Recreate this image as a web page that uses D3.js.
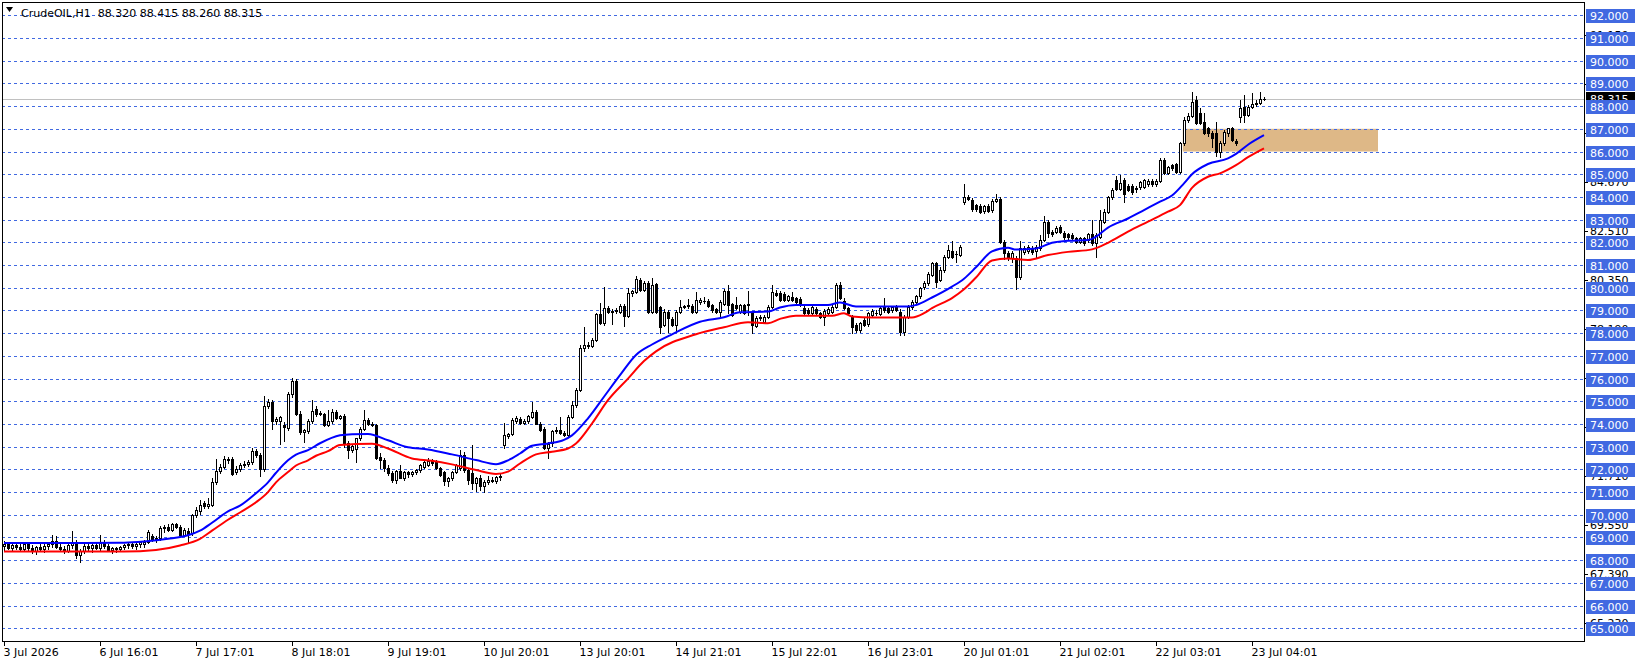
<!DOCTYPE html>
<html><head><meta charset="utf-8">
<script src="https://cdn.jsdelivr.net/npm/d3@7"></script>
<style>html,body{margin:0;padding:0;background:#fff;overflow:hidden}svg{display:block}text{font-family:"DejaVu Sans",Tahoma,sans-serif;font-size:11px}</style>
</head><body><svg id="c" width="1641" height="665"></svg>
<script>
// ---------------- DATA ----------------
const symbolTitle = "CrudeOIL,H1  88.320 88.415 88.260 88.315";
const opens = [
68.62,68.70,68.55,68.65,68.60,68.50,68.70,68.52,68.40,68.58,
68.50,68.62,68.72,68.85,68.60,68.48,68.40,68.65,68.80,68.25,
68.40,68.62,68.55,68.68,68.52,68.75,68.62,68.45,68.52,68.48,
68.58,68.65,68.70,68.62,68.70,68.70,68.82,69.05,68.92,68.96,
69.40,69.48,69.35,69.58,69.45,69.12,69.30,69.20,69.98,70.15,
70.50,70.38,70.45,71.43,71.95,72.10,72.45,72.45,71.87,72.02,
72.21,72.25,72.32,72.80,72.62,72.00,74.80,74.95,74.15,74.15,
73.95,73.83,75.30,75.90,74.45,73.65,73.70,74.15,74.65,74.50,
74.45,73.97,74.12,74.54,74.27,74.35,73.18,72.85,72.90,73.36,
73.80,74.17,74.02,73.95,72.55,72.41,72.04,71.85,71.55,71.92,
71.64,71.88,71.78,71.90,71.97,72.10,72.20,72.37,72.34,72.05,
71.90,71.50,71.60,71.90,72.04,72.63,71.97,71.82,71.40,71.60,
71.25,71.45,71.55,71.50,71.65,73.07,73.45,73.55,74.15,74.22,
74.05,74.14,74.32,74.54,74.02,73.78,72.95,73.14,73.69,73.74,
73.60,73.52,74.32,74.83,75.50,77.33,77.50,77.45,77.70,78.83,
78.43,79.12,78.95,78.97,78.95,79.21,78.77,79.75,79.83,80.34,
79.90,80.20,78.95,80.15,79.13,78.36,78.95,78.63,78.36,78.95,
79.17,79.19,79.21,78.95,79.39,79.42,79.42,79.24,79.05,78.95,
79.30,79.86,79.27,79.24,78.95,79.24,79.27,78.88,78.30,78.66,
78.51,78.73,79.17,79.76,79.76,79.71,79.46,79.61,79.54,79.51,
79.10,79.01,78.88,79.07,78.88,78.69,78.88,78.95,79.17,80.10,
79.42,79.10,78.73,78.36,78.14,78.58,78.39,78.80,78.88,78.83,
79.17,79.10,79.03,79.17,78.95,78.07,78.73,79.13,79.36,79.64,
80.05,80.20,80.57,81.08,80.35,80.79,81.37,81.62,81.48,81.45,
83.79,84.00,83.85,83.64,83.61,83.39,83.61,83.42,83.83,83.90,
82.02,81.51,81.29,81.29,80.48,81.58,81.63,81.76,81.63,81.73,
82.10,82.91,82.46,82.46,82.69,82.42,82.36,82.32,82.17,82.02,
82.17,82.10,82.36,81.95,82.25,82.91,83.35,84.00,84.74,84.37,
84.74,84.48,84.48,84.40,84.42,84.45,84.57,84.70,84.57,84.71,
85.62,85.06,85.40,85.45,85.10,86.36,87.41,87.56,88.27,87.68,
87.31,87.02,86.83,86.80,85.99,86.39,86.80,87.02,86.47,87.53,
87.97,87.60,87.97,88.09,88.15,88.32];
const highs = [
68.85,68.80,68.72,68.78,68.70,68.78,68.80,68.68,68.62,68.75,
68.70,68.80,69.10,69.05,68.72,68.62,68.70,69.27,68.90,68.50,
68.70,68.78,68.72,68.80,69.10,68.90,68.70,68.58,68.60,68.62,
68.72,68.78,68.82,68.75,68.85,68.90,69.35,69.15,69.05,69.50,
69.55,69.58,69.65,69.65,69.55,69.40,69.42,70.05,70.35,70.65,
70.60,70.75,71.60,72.46,72.25,72.60,72.55,72.55,72.15,72.30,
72.35,72.40,72.95,72.90,72.70,75.25,75.10,75.05,74.30,74.35,
74.10,75.40,76.03,76.00,74.55,73.80,74.20,75.05,74.80,74.58,
74.50,74.60,74.65,74.60,74.40,74.45,73.25,73.10,73.40,73.85,
74.61,74.25,74.10,74.02,72.70,72.50,72.20,71.92,71.98,72.19,
71.92,71.95,71.95,72.00,72.25,72.38,72.48,72.45,72.40,72.10,
71.95,71.65,71.95,72.25,72.85,72.75,72.05,73.07,71.68,71.75,
71.55,71.70,71.68,71.72,71.80,74.03,73.62,74.25,74.35,74.30,
74.20,74.40,74.95,74.60,74.08,73.85,73.20,73.75,73.85,74.32,
73.70,74.40,75.00,75.60,77.48,78.28,77.60,77.80,78.90,79.31,
80.05,79.20,79.05,79.10,79.30,79.30,79.97,79.90,80.53,80.44,
80.30,80.30,80.45,80.20,79.20,79.05,79.00,78.70,79.00,79.45,
79.25,79.49,79.30,79.80,79.55,79.61,79.50,79.30,79.10,79.45,
79.95,80.10,79.35,79.61,79.30,79.30,79.86,78.95,78.75,78.80,
78.80,79.25,80.12,79.90,79.85,79.80,79.70,79.80,79.60,79.58,
79.20,79.10,79.20,79.15,78.95,79.05,79.15,79.25,80.20,80.27,
79.55,79.15,78.80,78.45,78.50,78.65,78.95,79.05,79.00,79.15,
79.54,79.20,79.20,79.25,79.05,78.80,79.25,79.45,79.70,80.05,
80.30,80.70,81.15,81.15,80.90,81.45,81.90,82.08,81.60,81.90,
84.57,84.10,83.95,83.70,83.68,83.65,83.70,83.90,84.15,84.00,
82.10,81.60,81.60,81.40,82.05,81.85,81.90,81.85,81.90,82.32,
83.15,83.00,82.55,82.70,82.75,82.50,82.42,82.40,82.25,82.25,
82.25,82.40,82.98,82.40,83.43,83.45,84.05,84.40,84.92,84.96,
84.85,84.55,84.55,84.50,84.70,84.80,84.80,84.78,84.80,85.70,
85.70,85.35,85.45,85.50,86.40,87.50,87.70,88.60,88.45,87.90,
87.68,87.10,86.90,87.30,86.45,86.95,87.05,87.10,86.55,88.27,
88.49,88.05,88.56,88.25,88.60,88.415];
const lows = [
68.45,68.50,68.40,68.50,68.42,68.40,68.45,68.30,68.28,68.45,
68.35,68.50,68.60,68.55,68.40,68.30,68.38,68.55,68.10,67.90,
68.30,68.45,68.35,68.48,68.45,68.55,68.40,68.30,68.38,68.40,
68.48,68.52,68.55,68.50,68.60,68.60,68.75,68.85,68.80,68.90,
69.25,69.30,69.30,69.40,69.05,69.05,68.80,69.10,69.90,70.05,
70.30,70.30,70.40,71.35,71.85,72.05,72.30,71.75,71.80,71.95,
72.10,72.15,72.25,72.55,71.73,71.95,74.70,73.78,74.00,73.10,
73.25,73.75,75.20,74.40,73.55,73.20,73.60,74.05,74.35,74.38,
73.90,73.90,74.05,74.20,74.20,73.00,72.48,72.75,72.34,73.30,
73.75,73.95,73.90,72.45,72.04,71.95,71.75,71.45,71.40,71.60,
71.55,71.68,71.70,71.80,71.90,72.05,72.15,72.20,72.00,71.70,
71.30,71.25,71.55,71.85,71.98,71.90,71.35,71.15,71.05,71.10,
71.00,71.35,71.45,71.42,71.55,72.93,73.38,73.50,74.05,74.00,
73.98,74.05,74.28,73.98,73.68,72.90,72.48,73.05,73.60,73.55,
73.45,73.45,74.25,74.75,75.45,77.20,77.35,77.40,77.65,78.40,
78.38,78.90,78.39,78.90,78.90,78.32,78.70,79.65,79.78,79.85,
79.85,78.90,78.90,78.90,78.00,78.30,78.07,78.30,78.07,78.88,
79.10,79.10,78.90,78.90,79.30,79.35,79.15,78.95,78.90,78.66,
79.25,78.88,78.75,79.05,78.90,78.85,78.80,78.00,78.25,78.60,
78.45,78.65,79.10,79.65,79.40,79.40,79.40,79.40,79.35,79.20,
78.85,78.80,78.82,78.82,78.65,78.36,78.82,78.90,79.10,79.50,
79.05,78.82,78.00,78.05,78.05,78.30,78.30,78.75,78.80,78.78,
78.95,78.90,78.95,78.98,77.90,77.92,78.65,79.05,79.30,79.55,
79.95,80.10,80.50,80.05,80.28,80.70,81.30,81.30,81.12,81.40,
83.70,83.85,83.40,83.40,83.30,83.30,83.35,83.35,83.78,81.95,
81.28,81.20,81.14,79.93,80.40,81.50,81.55,81.50,81.36,81.65,
82.05,82.25,82.30,82.40,82.40,82.15,82.15,82.10,81.95,81.95,
81.90,82.00,81.90,81.36,82.20,82.85,83.30,83.90,84.30,84.30,
83.79,84.25,84.15,84.20,84.35,84.40,84.50,84.50,84.50,84.65,
85.00,85.00,85.20,85.05,85.05,86.30,87.30,87.50,87.20,87.20,
86.75,86.70,86.20,85.80,85.77,86.30,86.70,86.45,86.30,87.31,
87.31,87.55,87.90,88.00,88.10,88.26];
const closes = [
68.70,68.55,68.65,68.60,68.50,68.70,68.52,68.40,68.58,68.50,
68.62,68.72,68.85,68.60,68.48,68.40,68.65,68.80,68.25,68.40,
68.62,68.55,68.68,68.52,68.75,68.62,68.45,68.52,68.48,68.58,
68.65,68.70,68.62,68.70,68.80,68.82,69.25,68.92,68.98,69.40,
69.48,69.35,69.58,69.45,69.12,69.35,69.15,69.98,70.20,70.42,
70.38,70.48,71.46,71.95,72.10,72.45,72.42,71.80,72.02,72.21,
72.25,72.32,72.83,72.62,72.02,74.80,74.95,74.15,74.22,74.30,
73.85,75.33,75.90,74.45,73.65,73.72,74.15,74.59,74.45,74.45,
73.97,74.15,74.54,74.27,74.33,73.15,72.87,73.05,73.36,73.80,
74.17,74.02,73.95,72.50,72.41,72.04,71.85,71.52,71.92,71.64,
71.88,71.78,71.90,71.97,72.19,72.34,72.37,72.26,72.05,71.75,
71.50,71.60,71.90,72.19,72.63,71.97,71.53,71.40,71.60,71.25,
71.45,71.55,71.50,71.65,71.70,73.50,73.55,74.17,74.25,74.05,
74.15,74.35,74.54,74.02,73.73,72.95,73.10,73.69,73.74,73.60,
73.52,74.32,74.83,75.50,77.33,77.50,77.45,77.70,78.83,78.43,
79.12,78.95,78.97,79.02,79.21,78.77,79.75,79.85,80.38,79.90,
80.19,78.95,80.12,78.95,78.29,78.95,78.66,78.36,78.95,79.17,
79.19,79.24,78.95,79.46,79.46,79.42,79.21,79.02,78.95,79.36,
79.86,79.24,78.80,79.10,79.24,78.88,79.24,78.36,78.66,78.73,
78.73,79.17,79.83,79.69,79.46,79.46,79.64,79.46,79.39,79.24,
78.88,78.88,79.13,78.88,78.73,78.98,79.07,79.17,80.10,79.54,
79.10,78.88,78.29,78.14,78.44,78.36,78.88,78.98,78.88,79.10,
79.02,78.95,79.13,79.02,78.07,78.73,79.17,79.36,79.64,80.00,
80.20,80.60,81.08,80.27,80.79,81.37,81.67,81.37,81.48,81.81,
84.00,83.89,83.49,83.49,83.35,83.60,83.39,83.83,83.93,82.02,
81.51,81.29,81.51,80.48,81.73,81.73,81.80,81.58,81.80,82.10,
82.91,82.39,82.36,82.64,82.46,82.22,82.22,82.17,82.02,82.17,
81.95,82.36,81.95,82.32,82.98,83.35,84.00,84.30,84.37,84.62,
84.15,84.30,84.23,84.35,84.67,84.74,84.71,84.57,84.71,85.62,
85.06,85.30,85.26,85.10,86.36,87.41,87.56,88.19,87.24,87.27,
86.80,86.80,86.58,85.99,86.39,86.87,87.02,86.50,86.39,87.90,
87.60,87.97,88.09,88.15,88.30,88.315];

// Moving averages at sample bars
const blueIdx = [0,10,20,30,35,41,46,49,52,56,59,63,66,68,71,73,76,79,84,87,91,96,101,106,112,118,123,126,129,132,136,140,142,146,150,154,158,162,167,174,180,184,191,194,198,206,209,213,219,226,228,232,237,240,243,247,251,253,258,262,266,271,273,276,281,285,289,292,295,297,301,306,308,311,315];
const blueVal = [68.76,68.76,68.76,68.77,68.82,68.94,69.1,69.3,69.65,70.15,70.4,70.95,71.43,71.85,72.4,72.65,72.85,73.15,73.5,73.55,73.56,73.28,72.97,72.88,72.66,72.41,72.23,72.4,72.7,73.04,73.14,73.3,73.5,74.25,75.2,76.15,77.04,77.5,77.95,78.5,78.7,78.92,78.95,79.13,79.24,79.24,79.35,79.17,79.17,79.17,79.24,79.57,80.05,80.4,80.9,81.6,81.76,81.68,81.73,81.98,82.07,82.1,82.25,82.65,83.05,83.42,83.79,84.06,84.6,85.0,85.45,85.7,85.9,86.3,86.72];
const redIdx = [0,20,30,38,44,49,52,56,59,63,66,68,71,73,76,78,81,84,92,96,102,107,112,118,123,126,129,133,137,141,143,147,151,156,160,163,173,180,186,191,194,198,207,210,212,217,227,230,232,237,240,243,247,251,256,261,266,272,276,281,286,291,294,297,301,304,308,311,315];
const redVal = [68.38,68.38,68.38,68.45,68.65,68.94,69.3,69.78,70.1,70.55,71.0,71.43,71.88,72.17,72.4,72.6,72.8,73.07,73.13,72.92,72.48,72.38,72.22,71.97,71.8,71.9,72.26,72.66,72.78,72.92,73.14,74.02,75.05,76.0,76.77,77.2,77.95,78.26,78.48,78.44,78.63,78.77,78.77,78.88,78.73,78.69,78.69,78.88,79.1,79.54,79.93,80.45,81.2,81.29,81.22,81.44,81.58,81.69,81.98,82.47,82.91,83.35,83.64,84.4,84.89,85.04,85.4,85.75,86.14];

// time axis labels and the bar index at which each one sits
const timeLabels = ["3 Jul 2026","6 Jul 16:01","7 Jul 17:01","8 Jul 18:01","9 Jul 19:01","10 Jul 20:01","13 Jul 20:01","14 Jul 21:01","15 Jul 22:01","16 Jul 23:01","20 Jul 01:01","21 Jul 02:01","22 Jul 03:01","23 Jul 04:01"];
const timeLabelIdx = [0,24,48,72,96,120,144,168,192,216,240,264,288,312];
// price grid levels (labelled) and the platform's auto scale marks
const gridLevels = d3.range(65, 93, 1);
const autoScaleMarks = [65.23,67.39,69.55,71.71,73.87,76.03,78.19,80.35,82.51,84.67,86.83,88.99,91.15];
const lastPrice = 88.315;
// supply/demand zone: [from bar, to bar, low, high]
const zoneBars = [294.7, 343.5];
const zonePrices = [86, 87];

// ---------------- DRAW ----------------
const W = 1641, H = 665;
const P = {left: 2, right: 1584, top: 2, bottom: 641};
const x = d3.scaleLinear().domain([0, 315]).range([4, 1264]);
const y = d3.scaleLinear().domain([65, 92]).range([628.3, 15.3]);
const svg = d3.select('#c');
svg.append('rect').attr('width', W).attr('height', H).attr('fill', '#fff');

// zone
svg.append('rect')
  .attr('x', x(zoneBars[0])).attr('y', y(zonePrices[1]))
  .attr('width', x(zoneBars[1]) - x(zoneBars[0]))
  .attr('height', y(zonePrices[0]) - y(zonePrices[1]))
  .attr('fill', '#DEB887');

// grid
const gy = v => Math.round(y(v)) + 0.5;
svg.append('g').selectAll('line').data(gridLevels).join('line')
  .attr('x1', P.left).attr('x2', P.right)
  .attr('y1', d => gy(d)).attr('y2', d => gy(d))
  .attr('stroke', '#4169E1').attr('stroke-width', 1).attr('stroke-dasharray', '3,3')
  .attr('shape-rendering', 'crispEdges');

// last price line
svg.append('line').attr('x1', P.left).attr('x2', P.right)
  .attr('y1', gy(lastPrice)).attr('y2', gy(lastPrice))
  .attr('stroke', '#C0C0C0').attr('shape-rendering', 'crispEdges');

// candles
const bars = d3.range(opens.length).map(i => ({i, o: opens[i], h: highs[i], l: lows[i], c: closes[i]}));
const cg = svg.append('g').attr('shape-rendering', 'crispEdges');
bars.forEach(b => {
  const xi = Math.round(x(b.i));
  cg.append('line').attr('x1', xi + 0.5).attr('x2', xi + 0.5)
    .attr('y1', Math.round(y(b.h))).attr('y2', Math.round(y(b.l)) + 1)
    .attr('stroke', '#000');
  const top = Math.round(y(Math.max(b.o, b.c)));
  const bot = Math.round(y(Math.min(b.o, b.c)));
  if (bot - top < 1) {
    cg.append('line').attr('x1', xi - 1).attr('x2', xi + 2)
      .attr('y1', top + 0.5).attr('y2', top + 0.5).attr('stroke', '#000');
  } else if (b.c >= b.o) {
    cg.append('rect').attr('x', xi - 0.5).attr('y', top + 0.5)
      .attr('width', 2).attr('height', bot - top)
      .attr('fill', '#fff').attr('stroke', '#000');
  } else {
    cg.append('rect').attr('x', xi - 1).attr('y', top)
      .attr('width', 3).attr('height', bot - top + 1).attr('fill', '#000');
  }
});

// moving averages
const line = d3.line().x(d => x(d[0])).y(d => y(d[1])).curve(d3.curveMonotoneX);
svg.append('path').datum(redIdx.map((d, k) => [d, redVal[k]]))
  .attr('d', line).attr('fill', 'none').attr('stroke', '#FF0000').attr('stroke-width', 2);
svg.append('path').datum(blueIdx.map((d, k) => [d, blueVal[k]]))
  .attr('d', line).attr('fill', 'none').attr('stroke', '#0000FF').attr('stroke-width', 2);

// white margins outside plot
svg.append('rect').attr('x', P.right + 1).attr('y', 0).attr('width', W - P.right - 1).attr('height', H).attr('fill', '#fff');
svg.append('rect').attr('x', 0).attr('y', P.bottom + 1).attr('width', W).attr('height', H - P.bottom - 1).attr('fill', '#fff');

// frame
svg.append('rect').attr('x', P.left + 0.5).attr('y', P.top + 0.5)
  .attr('width', P.right - P.left).attr('height', P.bottom - P.top)
  .attr('fill', 'none').attr('stroke', '#000').attr('shape-rendering', 'crispEdges');

// right scale: auto marks (mostly covered)
const rg = svg.append('g');
autoScaleMarks.forEach(v => {
  rg.append('line').attr('x1', P.right).attr('x2', P.right + 4)
    .attr('y1', gy(v)).attr('y2', gy(v)).attr('stroke', '#000').attr('shape-rendering', 'crispEdges');
  rg.append('text').attr('x', 1590).attr('y', y(v) + 4).attr('fill', '#000').text(v.toFixed(3));
});
// last price label
rg.append('rect').attr('x', 1586).attr('y', Math.round(y(lastPrice)) - 7).attr('width', 49).attr('height', 14).attr('fill', '#000');
rg.append('text').attr('x', 1590).attr('y', y(lastPrice) + 4).attr('fill', '#fff').text(lastPrice.toFixed(3));
// grid labels
gridLevels.forEach(v => {
  rg.append('rect').attr('x', 1586).attr('y', Math.round(y(v)) - 6).attr('width', 49).attr('height', 14).attr('fill', '#4169E1');
  rg.append('text').attr('x', 1590).attr('y', y(v) + 5).attr('fill', '#fff').text(v.toFixed(3));
});

// time axis
const tg = svg.append('g');
timeLabelIdx.forEach((idx, k) => {
  const tx = Math.round(x(idx)) + 0.5;
  tg.append('line').attr('x1', tx).attr('x2', tx).attr('y1', P.bottom).attr('y2', P.bottom + 5)
    .attr('stroke', '#000').attr('shape-rendering', 'crispEdges');
  tg.append('text').attr('x', tx - 1).attr('y', 656).attr('fill', '#000').text(timeLabels[k]);
});

// header
svg.append('path').attr('d', 'M6,7 L13,7 L9.5,12 Z').attr('fill', '#000');
svg.append('text').attr('x', 21).attr('y', 17).attr('fill', '#000')
  .style('white-space', 'pre').text(symbolTitle);
</script></body></html>
